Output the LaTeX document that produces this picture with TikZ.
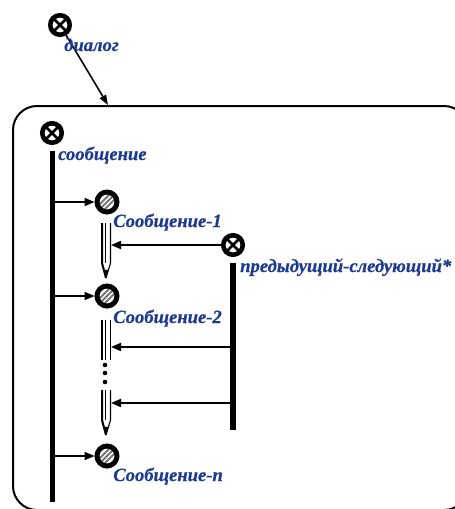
\documentclass[tikz,border=0pt]{standalone}
\usepackage{fontspec}
\setmainfont{Liberation Serif}
\newfontface\lblface[FakeBold=0.6]{Liberation Serif Bold Italic}
\usetikzlibrary{arrows.meta,calc}
\definecolor{labelblue}{RGB}{28,58,145}
\definecolor{hatchgray}{RGB}{120,120,120}
\tikzset{
  frame/.style={line width=2pt, rounded corners=24pt},
  xcirc/.style={circle, draw, fill=white, line width=4.6pt, minimum size=19.5pt, inner sep=0pt,
    path picture={\draw[line width=2.8pt]
      (path picture bounding box.north west) -- (path picture bounding box.south east)
      (path picture bounding box.north east) -- (path picture bounding box.south west);}},
  hcirc/.style={circle, draw, fill=white, line width=5pt, minimum size=20pt, inner sep=0pt,
    path picture={\foreach \d in {-5,0,5}
      \draw[hatchgray, line width=2.1pt]
        ($(path picture bounding box.center)+(\d,0)+(-9,9)$) --
        ($(path picture bounding box.center)+(\d,0)+(9,-9)$);}},
  bar/.style={line width=5pt},
  arr/.style={line width=1.9pt, -{Triangle[length=10pt,width=8pt]}},
  lbl/.style={text=labelblue, font=\lblface\fontsize{18.6}{20}\selectfont,
    inner sep=0pt, anchor=base west},
}
% pencil-shaped link: origin at the top centre, #1 = body length, #2 = tip length
\newcommand{\pencillink}[2]{%
  \draw[line width=2pt] (-4,0) -- (-4,#1) -- (0,#1+#2);
  \draw[line width=0.9pt] (-1,0) -- (-1,#1);
  \draw[line width=1.1pt] (4.5,0) -- (4.5,#1) -- (0,#1+#2);
  \fill (-2.3,#1+0.45*#2) -- (2.5,#1+0.45*#2) -- (0,#1+#2) -- cycle;}
% open pencil body without a tip
\newcommand{\pencilshaft}[1]{%
  \draw[line width=2pt] (-4,0) -- (-4,#1);
  \draw[line width=0.9pt] (-1,0) -- (-1,#1);
  \draw[line width=1.1pt] (4.5,0) -- (4.5,#1);}
\begin{document}
\begin{tikzpicture}[x=1pt,y=-1pt]
\useasboundingbox (0,0) rectangle (455,509);
\fill[white] (0,0) rectangle (455,509);

% outer frame
\draw[frame] (13,106) rectangle (468,510);

% dialog
\node[xcirc] (dialog) at (60,25) {};
\coordinate (entry) at (108,105);
\draw[line width=1.6pt, -{Triangle[length=10pt,width=7pt]}] (dialog) -- (entry);
\node[lbl] (dialoglbl) at (64,51) {диалог};

% message list
\node[xcirc] (msg) at (52,133) {};
\node[lbl] (msglbl) at (58,160) {сообщение};
\coordinate (msgtop) at (52,151);
\coordinate (msgend) at (52,502);

\node[hcirc] (m1) at (107,202) {};
\node[hcirc] (m2) at (107,296) {};
\node[hcirc] (mn) at (107,456) {};
\draw[arr] (msgtop |- m1) -- (m1);
\draw[arr] (msgtop |- m2) -- (m2);
\draw[arr] (msgtop |- mn) -- (mn);
\draw[bar] (msgtop) -- (msgend);

\node[lbl] (m1lbl) at (113,227) {Сообщение-1};
\node[lbl] (m2lbl) at (113,323) {Сообщение-2};
\node[lbl] (mnlbl) at (113,481) {Сообщение-n};

% previous/next ordering
\node[xcirc] (prev) at (233,245) {};
\node[lbl] (prevlbl) at (240,272) {предыдущий-следующий*};
\coordinate (prevtop) at (233,263);
\coordinate (prevend) at (233,430);
\draw[bar, line width=6pt] (prevtop) -- (prevend);

% pencil links between consecutive messages
\coordinate (p1) at (106,223);
\coordinate (p2) at (106,320);
\coordinate (p3) at (106,390);
\begin{scope}[shift={(p1)}] \pencillink{40}{15} \end{scope}
\begin{scope}[shift={(p2)}] \pencilshaft{40} \end{scope}
\begin{scope}[shift={(p3)}] \pencillink{30}{15} \end{scope}
\foreach \yy in {365,373,382}
  \fill (105,\yy) circle (2.3pt);

% ordering arrows into the links
\coordinate (h1) at (111,245);
\coordinate (h2) at (111,347);
\coordinate (h3) at (111,403);
\draw[arr] (prev) -- (h1);
\draw[arr] (prevtop |- h2) -- (h2);
\draw[arr] (prevtop |- h3) -- (h3);
\end{tikzpicture}
\end{document}
